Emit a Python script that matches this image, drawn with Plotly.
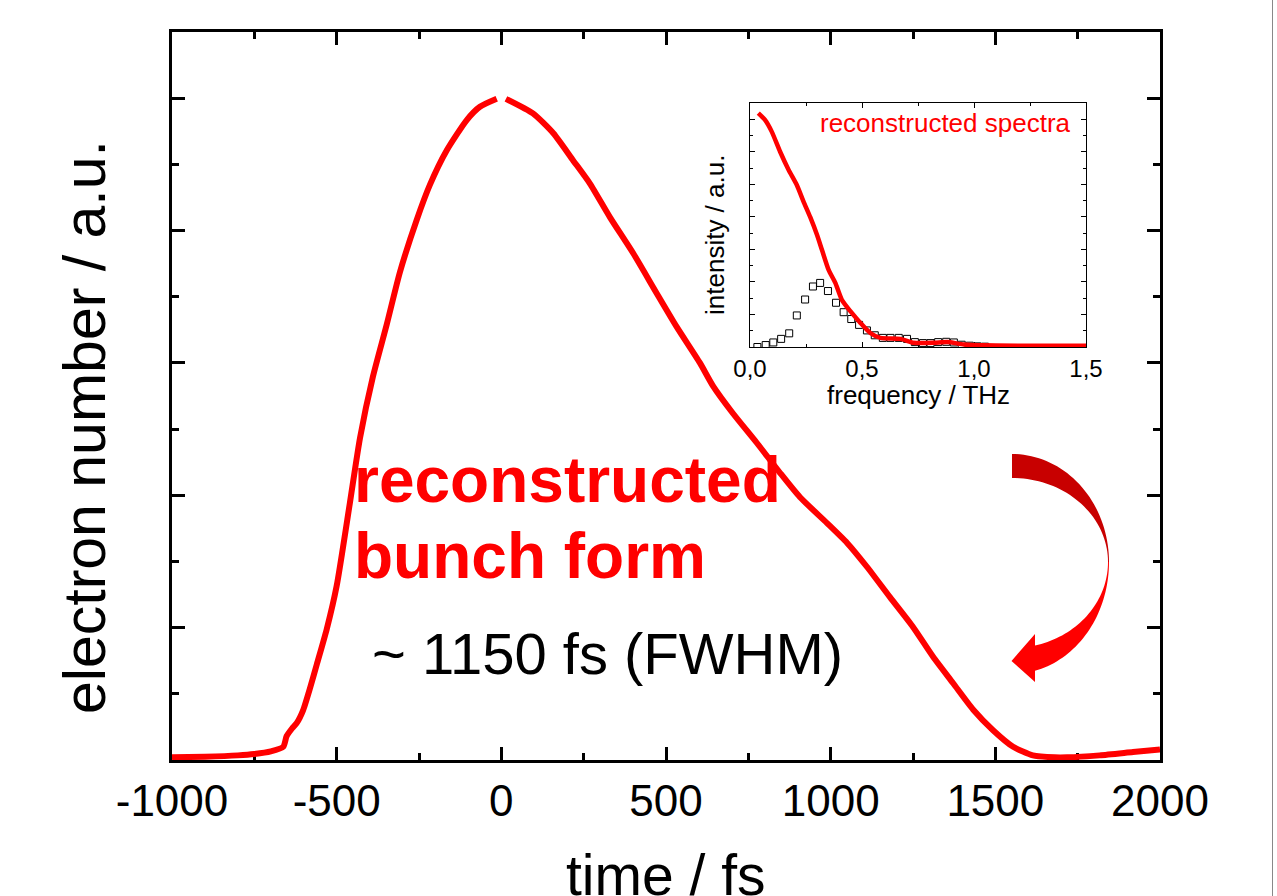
import numpy as np
import plotly.graph_objects as go

# ---------------- data ----------------
time_fs = [-1000, -900, -800, -750, -700, -662, -652, -635, -621, -602, -580, -560, -530,
           -500, -460, -429, -390, -348, -308, -257, -217, -166, -105, -65, -14, None,
           14, 96, 158, 218, 269, 330, 400, 472, 533, 603, 643, 703, 776, 846, 907, 989,
           1050, 1110, 1180, 1250, 1311, 1372, 1433, 1493, 1554, 1614, 1680, 1718, 1817,
           1918, 2000]
electrons = [0.004, 0.005, 0.007, 0.009, 0.013, 0.02, 0.036, 0.048, 0.056, 0.075, 0.11, 0.145,
             0.198, 0.263, 0.388, 0.487, 0.579, 0.658, 0.737, 0.816, 0.869, 0.921, 0.967, 0.987,
             0.999, None, 0.999, 0.977, 0.947, 0.906, 0.871, 0.820, 0.766, 0.705, 0.654, 0.600,
             0.565, 0.524, 0.479, 0.434, 0.397, 0.358, 0.328, 0.292, 0.246, 0.201, 0.156, 0.116,
             0.076, 0.045, 0.020, 0.007, 0.004, 0.004, 0.007, 0.012, 0.016]

spec_freq = [0.037, 0.067, 0.097, 0.134, 0.172, 0.209, 0.239, 0.269, 0.299, 0.321, 0.351,
             0.381, 0.410, 0.448, 0.493, 0.537, 0.582, 0.672, 0.731, 0.821, 0.881, 0.955,
             1.045, 1.269, 1.5]
spec_int = [7.19, 6.98, 6.62, 6.01, 5.45, 4.98, 4.47, 3.99, 3.45, 2.99, 2.37, 1.97, 1.45,
            1.10, 0.74, 0.43, 0.28, 0.25, 0.13, 0.13, 0.15, 0.08, 0.05, 0.04, 0.04]

meas_freq = [0.033, 0.070, 0.104, 0.139, 0.175, 0.209, 0.246, 0.281, 0.313, 0.348, 0.384,
             0.418, 0.452, 0.487, 0.522, 0.557, 0.593, 0.627, 0.664, 0.701, 0.736, 0.772,
             0.806, 0.840, 0.876, 0.910, 0.945, 0.981, 1.015, 1.049]
meas_int = [0.0, 0.06, 0.14, 0.25, 0.42, 0.97, 1.46, 1.86, 1.97, 1.72, 1.36, 1.07, 0.86,
            0.68, 0.51, 0.36, 0.28, 0.28, 0.28, 0.25, 0.15, 0.12, 0.12, 0.15, 0.16, 0.14,
            0.07, 0.04, 0.02, 0.01]

x_tickvals = [-1000, -500, 0, 500, 1000, 1500, 2000]
x_ticktext = ["-1000", "-500", "0", "500", "1000", "1500", "2000"]
inset_tickvals = [0.0, 0.5, 1.0, 1.5]
inset_ticktext = ["0,0", "0,5", "1,0", "1,5"]

# ---------------- layout geometry ----------------
W, H = 1277, 896
L, R, T, B = 172, 1160, 32, 760
FONT = "Liberation Sans, Arial, sans-serif"


def P(px, py):
    return (px - L) / (R - L), (B - py) / (B - T)


fig = go.Figure()
fig.add_trace(go.Scatter(x=time_fs, y=electrons, mode="lines", connectgaps=False,
                         line=dict(color="#FF0000", width=6, shape="spline", smoothing=0.6),
                         showlegend=False, xaxis="x", yaxis="y"))
fig.add_trace(go.Scatter(x=meas_freq, y=meas_int, mode="markers",
                         marker=dict(symbol="square-open", size=7, color="black",
                                     line=dict(width=1, color="black")),
                         showlegend=False, xaxis="x2", yaxis="y2"))
fig.add_trace(go.Scatter(x=spec_freq, y=spec_int, mode="lines",
                         line=dict(color="#FF0000", width=4.5, shape="spline", smoothing=0.6),
                         showlegend=False, xaxis="x2", yaxis="y2"))

# inset domain
ix0, iy0 = P(750, 347)
ix1, iy1 = P(1086, 103)

axis_common = dict(showline=True, linecolor="black", mirror="ticks", ticks="inside",
                   showgrid=False, zeroline=False)

fig.update_layout(
    width=W, height=H,
    margin=dict(l=L, r=W - R, t=T, b=H - B, pad=0),
    paper_bgcolor="white", plot_bgcolor="white",
    font=dict(family=FONT, color="black"),
    xaxis=dict(**axis_common, domain=[0, 1], range=[-1000, 2000], linewidth=3,
               tickmode="array", tickvals=x_tickvals, ticktext=x_ticktext,
               ticklen=13, tickwidth=3, tickcolor="black",
               tickfont=dict(size=44, family=FONT), layer="below traces",
               minor=dict(tickmode="linear", tick0=-1000, dtick=250, ticks="inside",
                          ticklen=7, tickwidth=3, tickcolor="black")),
    yaxis=dict(**axis_common, domain=[0, 1], range=[0, 1.1], linewidth=3,
               tickmode="linear", tick0=0, dtick=0.2, showticklabels=False,
               ticklen=13, tickwidth=3, tickcolor="black", layer="below traces",
               minor=dict(tickmode="linear", tick0=0, dtick=0.1, ticks="inside",
                          ticklen=7, tickwidth=3, tickcolor="black")),
    xaxis2=dict(**axis_common, anchor="y2", domain=[ix0, ix1], range=[0, 1.5], linewidth=1,
                tickmode="array", tickvals=inset_tickvals, ticktext=inset_ticktext,
                ticklen=5, tickwidth=1, tickcolor="black",
                tickfont=dict(size=24, family=FONT), layer="below traces",
                minor=dict(tickmode="linear", tick0=0, dtick=0.25, ticks="inside",
                           ticklen=3, tickwidth=1, tickcolor="black")),
    yaxis2=dict(**axis_common, anchor="x2", domain=[iy0, iy1], range=[0, 7.5], linewidth=1,
                tickmode="linear", tick0=0, dtick=1, showticklabels=False,
                ticklen=5, tickwidth=1, tickcolor="black", layer="below traces",
                minor=dict(tickmode="linear", tick0=0, dtick=0.5, ticks="inside",
                           ticklen=3, tickwidth=1, tickcolor="black")),
)

# ---------------- text ----------------
def ann(text, px, py, size, color="black", bold=False, xanchor="center", angle=0):
    x, y = P(px, py)
    t = f"<b>{text}</b>" if bold else text
    fig.add_annotation(text=t, x=x, y=y, xref="paper", yref="paper", showarrow=False,
                       xanchor=xanchor, yanchor="middle", textangle=angle,
                       font=dict(size=size, color=color, family=FONT))


ann("reconstructed", 352, 480, 64, color="#FF0000", bold=True, xanchor="left")
ann("bunch form", 352, 556, 64, color="#FF0000", bold=True, xanchor="left")
ann("~ 1150 fs (FWHM)", 607, 653, 58)
ann("reconstructed spectra", 1073, 123, 26, color="#FF0000", xanchor="right")
ann("time / fs", 666, 875, 57)
ann("electron number / a.u.", 85, 427, 59, angle=-90)
ann("frequency / THz", 918, 395, 26)
ann("intensity / a.u.", 715, 235, 26, angle=-90)

# ---------------- curved arrow ----------------
cx, cy = 1012, 562


def path_from(points):
    pts = [P(px, py) for px, py in points]
    return "M " + " L ".join(f"{x:.5f},{y:.5f}" for x, y in pts) + " Z"


th = np.linspace(np.pi / 2, 0, 40)
outer_top = [(cx + 97 * np.cos(a), cy - 108 * np.sin(a)) for a in th]
inner_top = [(cx + 96 * np.cos(a), cy - 84 * np.sin(a)) for a in th[::-1]]
top_pts = outer_top + inner_top

ph_o = np.linspace(0, np.arccos(23 / 97), 40)
ph_i = np.linspace(np.arccos(23 / 96), 0, 40)
outer_bot = [(cx + 97 * np.cos(a), cy + 112 * np.sin(a)) for a in ph_o]
head = [(1035, 682), (1011.5, 661), (1035, 634)]
inner_bot = [(cx + 96 * np.cos(a), cy + 86 * np.sin(a)) for a in ph_i]
bot_pts = outer_bot + head + inner_bot

fig.add_shape(type="path", path=path_from(top_pts), xref="paper", yref="paper",
              fillcolor="#C80000", line=dict(width=0), layer="above")
fig.add_shape(type="path", path=path_from(bot_pts), xref="paper", yref="paper",
              fillcolor="#FF0000", line=dict(width=0), layer="above")

# page border line on the right
bx, _ = P(1272.5, 0)
fig.add_shape(type="line", x0=bx, x1=bx, y0=-0.2, y1=1.1, xref="paper", yref="paper",
              line=dict(color="#888888", width=1))

fig.write_html("out.html")
